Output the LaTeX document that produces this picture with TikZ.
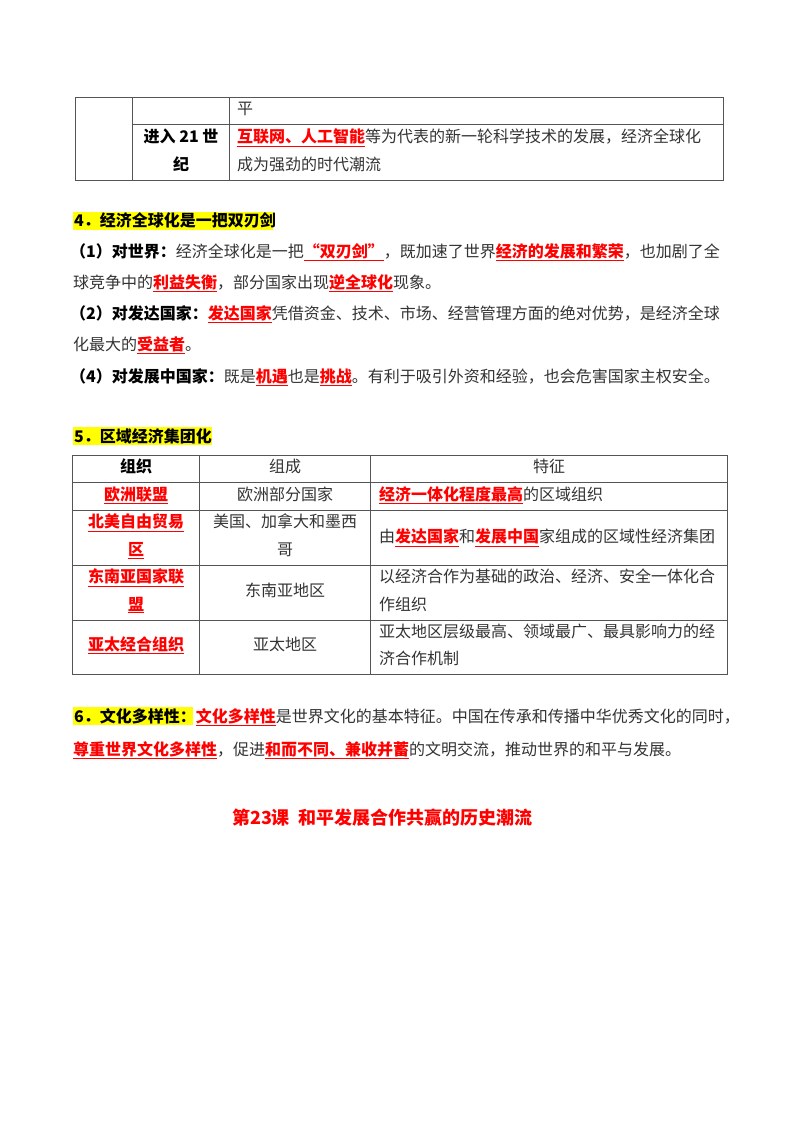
\documentclass[tikz,border=0pt]{standalone}
\usepackage{fontspec}
\setmainfont{Noto Sans CJK SC}
\usepackage{xcolor}
\definecolor{txt}{HTML}{333333}
\definecolor{rd}{HTML}{FF0000}
\definecolor{hy}{HTML}{FFFF00}
\definecolor{rulec}{HTML}{555555}
\newcommand{\rt}[1]{\textcolor{rd}{\bfseries\underline{#1}}}
\newcommand{\bk}[1]{\textcolor{black}{\bfseries #1}}
\tikzset{
  ln/.style={anchor=base west, inner sep=0pt, text=txt, font=\fontsize{16}{16}\selectfont},
  cn/.style={anchor=base, inner sep=0pt, text=txt, font=\fontsize{16}{16}\selectfont},
  hlbox/.style={anchor=north west, fill=hy, inner sep=0pt, draw=none},
  tbl/.style={draw=rulec, line width=0.9pt},
}
\begin{document}
\begin{tikzpicture}[x=1pt,y=-1pt]
\fill[white] (0,0) rectangle (800,1132);
\useasboundingbox (0,0) rectangle (800,1132);

% ---------- top table ----------
\draw[tbl] (75.7,97.3) rectangle (723.3,180.3);
\draw[tbl] (132.7,97.3) -- (132.7,180.3);
\draw[tbl] (229.3,97.3) -- (229.3,180.3);
\draw[tbl] (132.7,124) -- (723.3,124);
\node[ln] (t1) at (237,114) {平};
\node[cn] (t2) at (181,142.7) {\bk{进入 21 世}};
\node[cn] (t3) at (181,170) {\bk{纪}};
\node[ln] (t4) at (237,142.7) {\rt{互联网、人工智能}等为代表的新一轮科学技术的发展，经济全球化};
\node[ln] (t5) at (237,170) {成为强劲的时代潮流};

% ---------- section 4 ----------
\node[hlbox, minimum width=200pt, minimum height=17.6pt] (h4) at (73,211.7) {};
\node[ln] (h4t) at (74,226.6) {\bk{4．经济全球化是一把双刃剑}};
\node[ln] (a1) at (70,257) {\bk{（1）对世界：}经济全球化是一把\rt{“双刃剑”}，既加速了世界\rt{经济的发展和繁荣}，也加剧了全};
\node[ln] (a2) at (73,288) {球竞争中的\rt{利益失衡}，部分国家出现\rt{逆全球化}现象。};
\node[ln] (a3) at (70,319) {\bk{（2）对发达国家：}\rt{发达国家}凭借资金、技术、市场、经营管理方面的绝对优势，是经济全球};
\node[ln] (a4) at (73,350) {化最大的\rt{受益者}。};
\node[ln] (a5) at (70,382) {\bk{（4）对发展中国家：}既是\rt{机遇}也是\rt{挑战}。有利于吸引外资和经验，也会危害国家主权安全。};

% ---------- section 5 ----------
\node[hlbox, minimum width=139pt, minimum height=18pt] (h5) at (73,427) {};
\node[ln] (h5t) at (74,442) {\bk{5．区域经济集团化}};

\draw[tbl] (72.7,455.7) rectangle (727.3,674.3);
\draw[tbl] (199.3,455.7) -- (199.3,674.3);
\draw[tbl] (370.7,455.7) -- (370.7,674.3);
\foreach \yy in {482.7,510,565,620} \draw[tbl] (72.7,\yy) -- (727.3,\yy);

\node[cn] (c11) at (136,472.7) {\bk{组织}};
\node[cn] (c12) at (285,472.7) {组成};
\node[cn] (c13) at (549,472.7) {特征};

\node[cn] (c21) at (136,500) {\rt{欧洲联盟}};
\node[cn] (c22) at (285,500) {欧洲部分国家};
\node[ln] (c23) at (379,500) {\rt{经济一体化程度最高}的区域组织};

\node[cn] (c31a) at (136,527.7) {\rt{北美自由贸易}};
\node[cn] (c31b) at (136,555.3) {\rt{区}};
\node[cn] (c32a) at (285,527.7) {美国、加拿大和墨西};
\node[cn] (c32b) at (285,555.3) {哥};
\node[ln] (c33) at (379,542.7) {由\rt{发达国家}和\rt{发展中国}家组成的区域性经济集团};

\node[cn] (c41a) at (136,582.7) {\rt{东南亚国家联}};
\node[cn] (c41b) at (136,610) {\rt{盟}};
\node[cn] (c42) at (285,596.5) {东南亚地区};
\node[ln] (c43a) at (379,582) {以经济合作为基础的政治、经济、安全一体化合};
\node[ln] (c43b) at (379,610) {作组织};

\node[cn] (c51) at (136,650) {\rt{亚太经合组织}};
\node[cn] (c52) at (285,650) {亚太地区};
\node[ln] (c53a) at (379,637.7) {亚太地区层级最高、领域最广、最具影响力的经};
\node[ln] (c53b) at (379,664) {济合作机制};

% ---------- section 6 ----------
\node[hlbox, minimum width=120pt, minimum height=18.3pt] (h6) at (73,706.7) {};
\node[ln] (h6t) at (74,722.7) {\bk{6．文化多样性：}\rt{文化多样性}是世界文化的基本特征。中国在传承和传播中华优秀文化的同时，};
\node[ln] (b2) at (73,755) {\rt{尊重世界文化多样性}，促进\rt{和而不同、兼收并蓄}的文明交流，推动世界的和平与发展。};

% ---------- title ----------
\node[cn, font=\fontsize{18}{18}\selectfont] (title) at (382.5,824.5) {\textcolor{rd}{\bfseries 第23课\hspace{9pt}和平发展合作共赢的历史潮流}};
\end{tikzpicture}
\end{document}
